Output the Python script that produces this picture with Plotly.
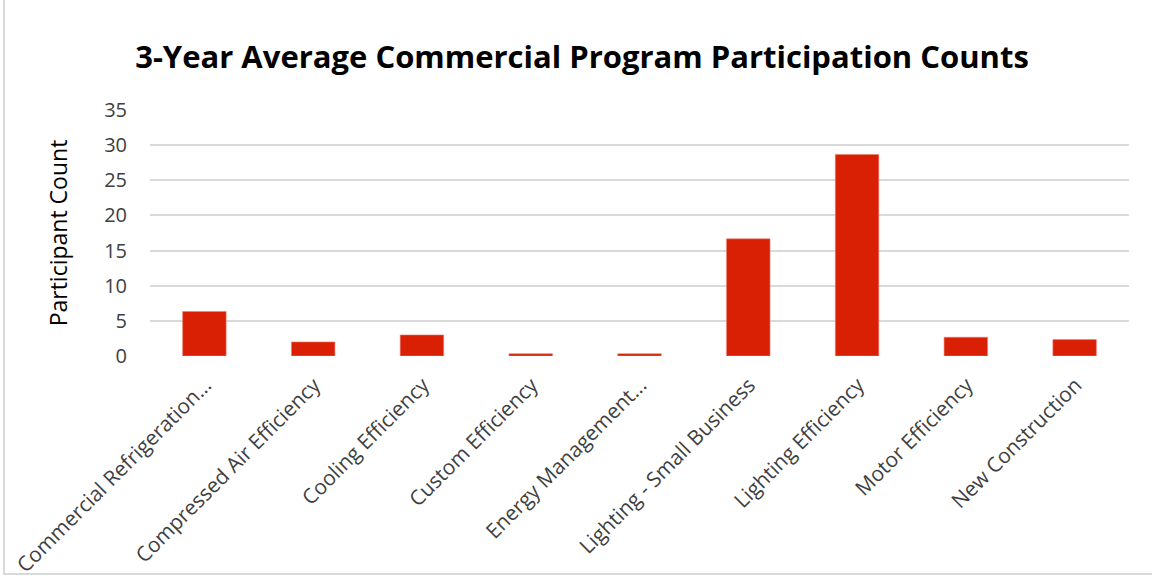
import plotly.graph_objects as go

categories = [
    "Commercial Refrigeration...",
    "Compressed Air Efficiency",
    "Cooling Efficiency",
    "Custom Efficiency",
    "Energy Management...",
    "Lighting - Small Business",
    "Lighting Efficiency",
    "Motor Efficiency",
    "New Construction",
]
participant_counts = [6.33, 2.0, 3.0, 0.33, 0.33, 16.67, 28.67, 2.67, 2.33]
y_ticks = [0, 5, 10, 15, 20, 25, 30, 35]

W, H = 1152, 585
ml, mr, mt, mb = 150, 23, 110, 229
pw, ph = W - ml - mr, H - mt - mb

def px_x(x):
    return (x - ml) / pw

def px_y(y):
    return (H - mb - y) / ph

fig = go.Figure(
    go.Bar(
        x=categories,
        y=participant_counts,
        marker=dict(color="#D92005", line=dict(color="#F08070", width=0.6)),
    )
)

fig.update_layout(
    width=W,
    height=H,
    margin=dict(l=ml, r=mr, t=mt, b=mb, autoexpand=False),
    paper_bgcolor="white",
    plot_bgcolor="white",
    bargap=0.6,
    showlegend=False,
    font=dict(family="Open Sans", color="#404040"),
    title=dict(
        text="<b>3-Year Average Commercial Program Participation Counts</b>",
        x=582 / W,
        xanchor="center",
        y=1 - 57 / H,
        yanchor="middle",
        font=dict(family="Open Sans", size=31, color="#000000"),
    ),
    xaxis=dict(
        tickangle=-45,
        tickfont=dict(size=20.8, color="#404040"),
        showgrid=False,
        showline=False,
        ticks="",
        zeroline=False,
        automargin=False,
        ticklabelstandoff=12,
        ticklabelshift=1,
    ),
    yaxis=dict(
        range=[0, 35],
        tickvals=y_ticks,
        tickfont=dict(size=20, color="#404040"),
        showgrid=True,
        gridcolor="#D9D9D9",
        gridwidth=1.5,
        zeroline=False,
        showline=False,
        ticks="",
        automargin=False,
        ticklabelstandoff=22,
        title=dict(
            text="Participant Count",
            font=dict(size=23, color="#000000"),
            standoff=30,
        ),
    ),
    shapes=[
        dict(
            type="line", xref="paper", yref="paper",
            x0=px_x(3), x1=px_x(W + 5), y0=px_y(H - 11), y1=px_y(H - 11),
            line=dict(color="#D9D9D9", width=2),
        ),
        dict(
            type="line", xref="paper", yref="paper",
            x0=px_x(4), x1=px_x(4), y0=px_y(H - 11), y1=px_y(-5),
            line=dict(color="#D9D9D9", width=2),
        ),
    ],
)

fig.write_html(
    "out.html",
    config={"displayModeBar": False},
    post_script="document.body.style.margin='0';document.body.style.overflow='hidden';",
)
